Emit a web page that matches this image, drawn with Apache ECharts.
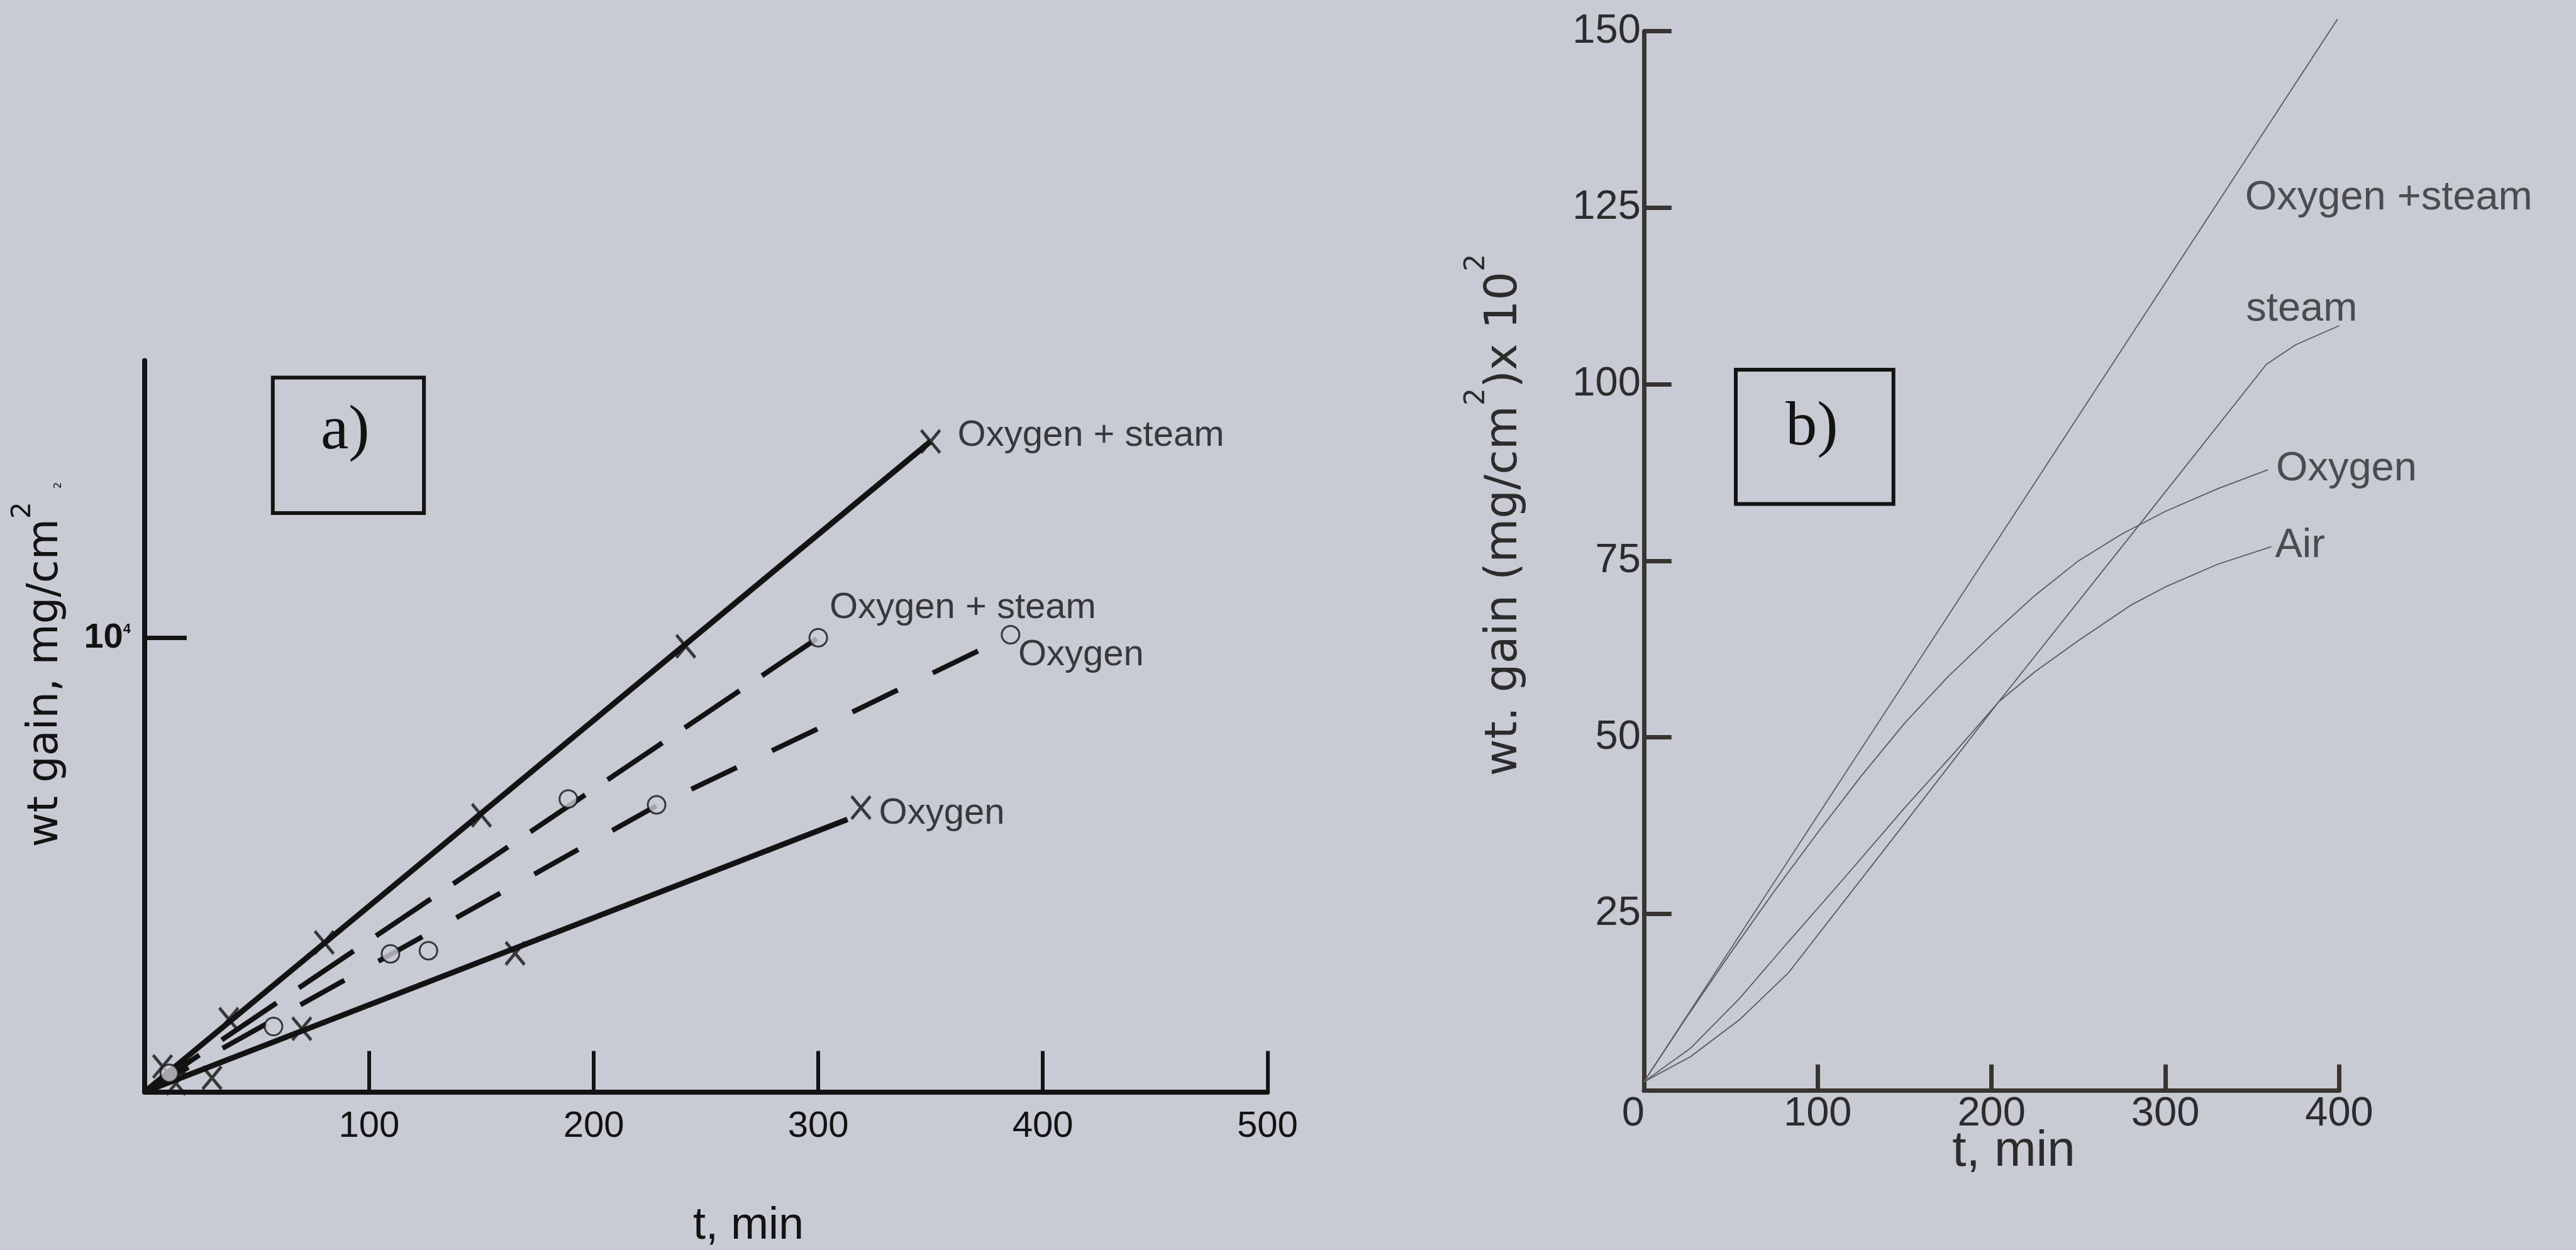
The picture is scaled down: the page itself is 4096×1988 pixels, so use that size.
<!DOCTYPE html>
<html>
<head>
<meta charset="utf-8">
<title>Weight gain vs time</title>
<script src="https://cdn.jsdelivr.net/npm/echarts@6/dist/echarts.min.js"></script>
<style>
  html, body { margin: 0; padding: 0; background: #c9cbd4; overflow: hidden; }
  #chart { width: 4096px; height: 1988px; }
</style>
</head>
<body>
<div id="chart"></div>
<script>
// ---------- Panel a): weight gain (mg/cm2) against time (min) ----------
const aXTicks = [100, 200, 300, 400, 500];
const aYTicks = [10000];
// solid fits and their measured points (x marks)
const aOxSteamFit = [[0, 0], [350, 14320]];
const aOxSteamPts = [[8, 560], [37.5, 1600], [80, 3290], [150, 6090], [241, 9810], [350, 14320]];
const aOxygenFit = [[0, 0], [313, 6000]];
const aOxygenPts = [[14, 190], [30, 310], [70, 1390], [165, 3050], [319, 6260]];
// dashed fits and their measured points (open circles)
const aOxSteamDash = [[0, 0], [300, 10000]];
const aOxSteamCircles = [[188.7, 6450], [300, 10000]];
const aOxygenDash = [[0, 0], [110, 3040], [228, 6300], [300, 8000], [386, 10065]];
const aOxygenCircles = [[11, 410], [57.4, 1440], [109.5, 3040], [126.4, 3110], [228, 6320], [385.6, 10065]];
// curve names, anchored at the left end of each name
const aNames = ['Oxygen + steam', 'Oxygen + steam', 'Oxygen', 'Oxygen'];
const aNameAt = [[362, 14450], [305, 10650], [389, 9610], [327, 6130]];

// ---------- Panel b): weight gain (mg/cm2 x 10^2) against time (min) ----------
const bXTicks = [0, 100, 200, 300, 400];
const bXTickMarks = [100, 200, 300, 400];
const bYTicks = [25, 50, 75, 100, 125, 150];
const bOxSteam = [[0, 1.2], [399, 151.7]];
const bSteam = [[0, 1.2], [27, 4.8], [55, 10], [83, 16.6], [150, 37.8], [204, 55], [285, 80.1], [358, 102.8], [375, 105.6], [400, 108.3]];
const bOxygen = [[0, 1.2], [25, 10.5], [50, 19.5], [75, 28.2], [100, 36.5], [125, 44.5], [150, 52], [175, 58.6], [200, 64.5], [225, 70.1], [250, 75], [275, 78.8], [300, 82], [330, 85.2], [359, 87.9]];
const bAir = [[0, 1.2], [27, 6], [55, 13], [83, 21], [115, 30], [150, 40], [180, 48.2], [204, 55], [225, 59.3], [250, 63.7], [280, 68.7], [300, 71.3], [330, 74.5], [361, 77]];
const bNames = ['Oxygen +steam', 'steam', 'Oxygen', 'Air'];
const bNameAt = [[345.8, 126.4], [346.4, 110.6], [363.6, 88], [363.1, 77.1]];

const SANS = '"Liberation Sans", Arial, Helvetica, sans-serif';
const WIDE = '"DejaVu Sans", Verdana, sans-serif';
const SERIF = '"Liberation Serif", "Times New Roman", serif';
const BG = '#c9cbd4';
const INK = '#131313';
const INK_B = '#383432';
const TXT_B = '#2c2c2c';
const CURVE_B = '#5a5a5a';
const X_MARK = 'path://M0,0L10,12M10,0L0,12';

function nameSeries(xi, names, at, size, color) {
  return {
    type: 'scatter', xAxisIndex: xi, yAxisIndex: xi, silent: true, z: 10,
    symbolSize: 0,
    data: names.map((n, i) => ({ name: n, value: at[i] })),
    label: {
      show: true, position: 'right', distance: 0, formatter: '{b}',
      fontFamily: SANS, fontSize: size, color: color
    }
  };
}

const chart = echarts.init(document.getElementById('chart'));

const option = {
  backgroundColor: BG,
  animation: false,
  textStyle: { fontFamily: SANS },
  grid: [
    { left: 229.9, top: 573.5, width: 1785.4, height: 1163.1 },
    { left: 2613.8, top: 49.7, width: 1105.7, height: 1684.4 }
  ],
  xAxis: [
    {
      gridIndex: 0, type: 'value', min: 0, max: 500, interval: 100,
      axisLine: { show: true, lineStyle: { color: INK, width: 8 } },
      axisTick: { show: true, inside: true, length: 65, customValues: aXTicks, lineStyle: { color: INK, width: 6 } },
      axisLabel: { customValues: aXTicks, fontFamily: SANS, fontSize: 58, color: INK, margin: 26 },
      splitLine: { show: false }
    },
    {
      gridIndex: 1, type: 'value', min: 0, max: 400, interval: 100,
      axisLine: { show: true, lineStyle: { color: INK_B, width: 7 } },
      axisTick: { show: true, inside: true, length: 41, customValues: bXTickMarks, lineStyle: { color: INK_B, width: 7 } },
      axisLabel: {
        customValues: bXTicks, fontFamily: SANS, fontSize: 65, color: TXT_B, margin: 5,
        formatter: v => (v === 0 ? '{z|0}' : String(v)),
        rich: { z: { fontFamily: SANS, fontSize: 65, color: TXT_B, padding: [0, 34, 0, 0] } }
      },
      splitLine: { show: false }
    }
  ],
  yAxis: [
    {
      gridIndex: 0, type: 'value', min: 0, max: 16100,
      axisLine: { show: true, lineStyle: { color: INK, width: 8 } },
      axisTick: { show: true, inside: true, length: 67, customValues: aYTicks, lineStyle: { color: INK, width: 7 } },
      axisLabel: {
        customValues: aYTicks, margin: 22, fontFamily: SANS, fontSize: 56, fontWeight: 'bold', color: INK,
        formatter: () => '10{s|4}',
        rich: { s: { fontFamily: SANS, fontSize: 22, fontWeight: 'bold', color: INK, padding: [0, 0, 26, 0] } }
      },
      splitLine: { show: false }
    },
    {
      gridIndex: 1, type: 'value', min: 0, max: 150, interval: 25,
      axisLine: { show: true, lineStyle: { color: INK_B, width: 7 } },
      axisTick: { show: true, inside: true, length: 44, customValues: bYTicks, lineStyle: { color: INK_B, width: 7 } },
      axisLabel: { customValues: bYTicks, fontFamily: SANS, fontSize: 65, color: TXT_B, margin: 5 },
      splitLine: { show: false }
    }
  ],
  series: [
    // panel a)
    { type: 'line', xAxisIndex: 0, yAxisIndex: 0, data: aOxSteamFit, symbol: 'none', clip: false,
      lineStyle: { color: INK, width: 9 } },
    { type: 'line', xAxisIndex: 0, yAxisIndex: 0, data: aOxygenFit, symbol: 'none', clip: false,
      lineStyle: { color: INK, width: 9 } },
    { type: 'line', xAxisIndex: 0, yAxisIndex: 0, data: aOxSteamDash, symbol: 'none', clip: false,
      lineStyle: { color: INK, width: 8, type: [105, 43] } },
    { type: 'line', xAxisIndex: 0, yAxisIndex: 0, data: aOxygenDash, symbol: 'none', clip: false,
      lineStyle: { color: INK, width: 8, type: [80, 62] } },
    { type: 'scatter', xAxisIndex: 0, yAxisIndex: 0, data: aOxSteamPts.concat(aOxygenPts),
      symbol: X_MARK, symbolSize: [30, 36], z: 5,
      itemStyle: { color: 'rgba(0,0,0,0)', borderColor: INK, borderWidth: 5 } },
    { type: 'scatter', xAxisIndex: 0, yAxisIndex: 0, data: aOxSteamCircles.concat(aOxygenCircles),
      symbol: 'circle', symbolSize: 28, z: 5,
      itemStyle: { color: BG, borderColor: INK, borderWidth: 3 } },
    nameSeries(0, aNames, aNameAt, 58, INK),

    // panel b)
    { type: 'line', xAxisIndex: 1, yAxisIndex: 1, data: bOxSteam, symbol: 'none', clip: false,
      lineStyle: { color: CURVE_B, width: 1.8 } },
    { type: 'line', xAxisIndex: 1, yAxisIndex: 1, data: bSteam, symbol: 'none', clip: false,
      lineStyle: { color: CURVE_B, width: 1.8 } },
    { type: 'line', xAxisIndex: 1, yAxisIndex: 1, data: bOxygen, symbol: 'none', clip: false,
      lineStyle: { color: CURVE_B, width: 1.8 } },
    { type: 'line', xAxisIndex: 1, yAxisIndex: 1, data: bAir, symbol: 'none', clip: false,
      lineStyle: { color: CURVE_B, width: 1.8 } },
    nameSeries(1, bNames, bNameAt, 65, TXT_B)
  ],
  graphic: [
    // panel tags
    { type: 'rect', shape: { x: 433.8, y: 600.6, width: 240.3, height: 215.3 },
      style: { fill: 'none', stroke: INK, lineWidth: 6 } },
    { type: 'text', x: 548.8, y: 687,
      style: { text: 'a)', fontFamily: SERIF, fontSize: 100, fill: INK,
               align: 'center', verticalAlign: 'middle', textAlign: 'center', textVerticalAlign: 'middle' } },
    { type: 'rect', shape: { x: 2760, y: 588, width: 250.7, height: 213.5 },
      style: { fill: 'none', stroke: INK, lineWidth: 6 } },
    { type: 'text', x: 2881, y: 681,
      style: { text: 'b)', fontFamily: SERIF, fontSize: 100, fill: INK,
               align: 'center', verticalAlign: 'middle', textAlign: 'center', textVerticalAlign: 'middle' } },

    // axis titles
    { type: 'text', x: 74, y: 1057, rotation: Math.PI / 2,
      style: {
        text: 'wt gain, mg/cm{sup|2} {sub|2}', fontFamily: WIDE, fontSize: 67, fill: INK,
        align: 'center', verticalAlign: 'middle', textAlign: 'center', textVerticalAlign: 'middle',
        rich: {
          sup: { fontFamily: WIDE, fontSize: 42, fill: INK, padding: [0, 0, 73, 0] },
          sub: { fontFamily: WIDE, fontSize: 16, fill: INK, padding: [37, 0, 0, 0] }
        }
      } },
    { type: 'text', x: 1190, y: 1950,
      style: { text: 't, min', fontFamily: SANS, fontSize: 72, fill: INK,
               align: 'center', verticalAlign: 'middle', textAlign: 'center', textVerticalAlign: 'middle' } },
    { type: 'text', x: 2392, y: 819, rotation: Math.PI / 2,
      style: {
        text: 'wt. gain (mg/cm{sup|2})x 10{sup|2}', fontFamily: WIDE, fontSize: 72, fill: TXT_B,
        align: 'center', verticalAlign: 'middle', textAlign: 'center', textVerticalAlign: 'middle',
        rich: { sup: { fontFamily: WIDE, fontSize: 44, fill: TXT_B, padding: [0, 0, 86, 0] } }
      } },
    { type: 'text', x: 3202, y: 1832,
      style: { text: 't, min', fontFamily: SANS, fontSize: 80, fill: TXT_B,
               align: 'center', verticalAlign: 'middle', textAlign: 'center', textVerticalAlign: 'middle' } }
  ]
};

chart.setOption(option);
</script>
</body>
</html>
